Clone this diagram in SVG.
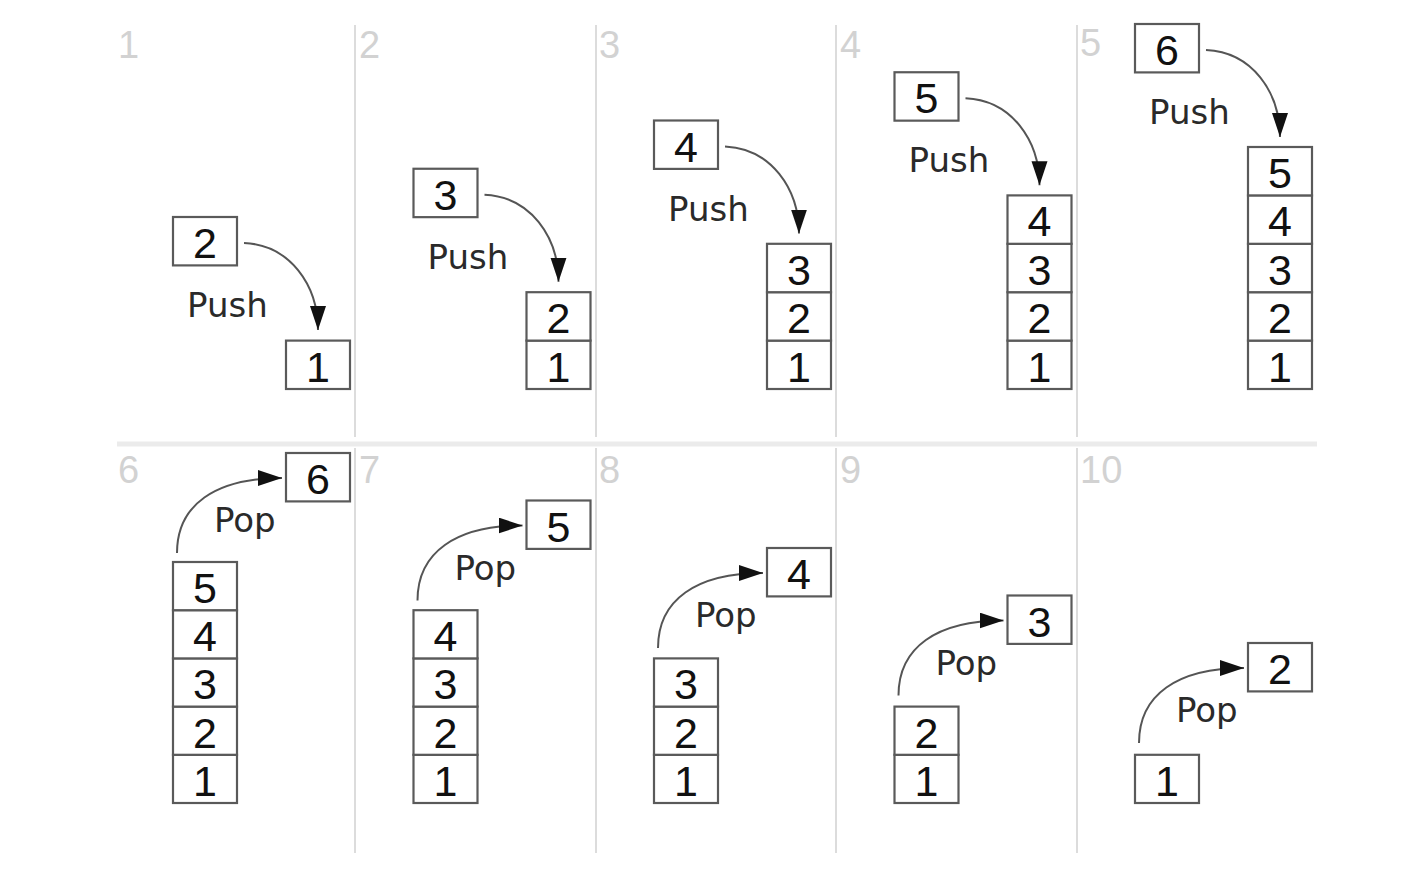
<svg xmlns="http://www.w3.org/2000/svg" width="1428" height="870" viewBox="0 0 1428 870">
<style>
.box{fill:#fff;stroke:#5a5a5a;stroke-width:2.2}
.num{font-family:"Liberation Sans",Arial,sans-serif;font-size:43px;fill:#111;text-anchor:middle}
.lbl{font-family:"Liberation Sans",Arial,sans-serif;font-size:38px;fill:#d2d2d2}
.op{font-family:"DejaVu Sans",Verdana,sans-serif;font-size:34px;fill:#2a2a2a}
.sep{stroke:#dcdcdc;stroke-width:2;fill:none}
.arr{stroke:#555;stroke-width:2;fill:none;marker-end:url(#ah)}
</style>
<defs>
<marker id="ah" markerUnits="userSpaceOnUse" markerWidth="26" markerHeight="18" refX="24" refY="8" orient="auto">
<path d="M0,0 L24,8 L0,16 Z" fill="#111"/>
</marker>
</defs>
<rect width="1428" height="870" fill="#fff"/>
<g id="grid">
<line class="sep" x1="355" y1="25" x2="355" y2="437"/>
<line class="sep" x1="596" y1="25" x2="596" y2="437"/>
<line class="sep" x1="836" y1="25" x2="836" y2="437"/>
<line class="sep" x1="1077" y1="25" x2="1077" y2="437"/>
<line class="sep" x1="355" y1="448" x2="355" y2="853"/>
<line class="sep" x1="596" y1="448" x2="596" y2="853"/>
<line class="sep" x1="836" y1="448" x2="836" y2="853"/>
<line class="sep" x1="1077" y1="448" x2="1077" y2="853"/>
<line x1="117" y1="444" x2="1317" y2="444" stroke="#ebebeb" stroke-width="5"/>
</g>
<g id="labels">
<text class="lbl" x="118" y="58">1</text>
<text class="lbl" x="359" y="58">2</text>
<text class="lbl" x="599" y="58">3</text>
<text class="lbl" x="840" y="58">4</text>
<text class="lbl" x="1080" y="56">5</text>
<text class="lbl" x="118" y="483">6</text>
<text class="lbl" x="359" y="483">7</text>
<text class="lbl" x="599" y="483">8</text>
<text class="lbl" x="840" y="483">9</text>
<text class="lbl" x="1080" y="483">10</text>
</g>
<g id="connectors">
<path class="arr" d="M244,243 C290,245 318,285 318,330"/>
<path class="arr" d="M484.5,194.75 C530.5,196.75 558.5,236.75 558.5,281.75"/>
<path class="arr" d="M725,146.5 C771,148.5 799,188.5 799,233.5"/>
<path class="arr" d="M965.5,98.25 C1011.5,100.25 1039.5,140.25 1039.5,185.25"/>
<path class="arr" d="M1206,50 C1252,52 1280,92 1280,137"/>
<path class="arr" d="M177,553 C177,505 215,478 282,478"/>
<path class="arr" d="M417.5,600.5 C417.5,552.5 455.5,525.5 522.5,525.5"/>
<path class="arr" d="M658,648 C658,600 696,573 763,573"/>
<path class="arr" d="M898.5,695.5 C898.5,647.5 936.5,620.5 1003.5,620.5"/>
<path class="arr" d="M1139,743 C1139,695 1177,668 1244,668"/>
<text class="op" x="187" y="317">Push</text>
<text class="op" x="427.5" y="268.75">Push</text>
<text class="op" x="668" y="220.5">Push</text>
<text class="op" x="908.5" y="172.25">Push</text>
<text class="op" x="1149" y="124">Push</text>
<text class="op" x="214" y="532">Pop</text>
<text class="op" x="454.5" y="579.5">Pop</text>
<text class="op" x="695" y="627">Pop</text>
<text class="op" x="935.5" y="674.5">Pop</text>
<text class="op" x="1176" y="722">Pop</text>
</g>
<!-- Panel 1 -->
<g id="p1-in"><rect class="box" x="173" y="217" width="64" height="48.4"/><text class="num" x="205" y="258">2</text></g>
<g id="p1-stack">
<rect class="box" x="286" y="340.6" width="64" height="48.4"/><text class="num" x="318" y="381.6">1</text>
</g>
<!-- Panel 2 -->
<g id="p2-in"><rect class="box" x="413.5" y="168.75" width="64" height="48.4"/><text class="num" x="445.5" y="209.75">3</text></g>
<g id="p2-stack">
<rect class="box" x="526.5" y="340.6" width="64" height="48.4"/><text class="num" x="558.5" y="381.6">1</text>
<rect class="box" x="526.5" y="292.2" width="64" height="48.4"/><text class="num" x="558.5" y="333.2">2</text>
</g>
<!-- Panel 3 -->
<g id="p3-in"><rect class="box" x="654" y="120.5" width="64" height="48.4"/><text class="num" x="686" y="161.5">4</text></g>
<g id="p3-stack">
<rect class="box" x="767" y="340.6" width="64" height="48.4"/><text class="num" x="799" y="381.6">1</text>
<rect class="box" x="767" y="292.2" width="64" height="48.4"/><text class="num" x="799" y="333.2">2</text>
<rect class="box" x="767" y="243.8" width="64" height="48.4"/><text class="num" x="799" y="284.8">3</text>
</g>
<!-- Panel 4 -->
<g id="p4-in"><rect class="box" x="894.5" y="72.25" width="64" height="48.4"/><text class="num" x="926.5" y="113.25">5</text></g>
<g id="p4-stack">
<rect class="box" x="1007.5" y="340.6" width="64" height="48.4"/><text class="num" x="1039.5" y="381.6">1</text>
<rect class="box" x="1007.5" y="292.2" width="64" height="48.4"/><text class="num" x="1039.5" y="333.2">2</text>
<rect class="box" x="1007.5" y="243.8" width="64" height="48.4"/><text class="num" x="1039.5" y="284.8">3</text>
<rect class="box" x="1007.5" y="195.4" width="64" height="48.4"/><text class="num" x="1039.5" y="236.4">4</text>
</g>
<!-- Panel 5 -->
<g id="p5-in"><rect class="box" x="1135" y="24" width="64" height="48.4"/><text class="num" x="1167" y="65">6</text></g>
<g id="p5-stack">
<rect class="box" x="1248" y="340.6" width="64" height="48.4"/><text class="num" x="1280" y="381.6">1</text>
<rect class="box" x="1248" y="292.2" width="64" height="48.4"/><text class="num" x="1280" y="333.2">2</text>
<rect class="box" x="1248" y="243.8" width="64" height="48.4"/><text class="num" x="1280" y="284.8">3</text>
<rect class="box" x="1248" y="195.4" width="64" height="48.4"/><text class="num" x="1280" y="236.4">4</text>
<rect class="box" x="1248" y="147" width="64" height="48.4"/><text class="num" x="1280" y="188">5</text>
</g>
<!-- Panel 6 -->
<g id="p6-out"><rect class="box" x="286" y="453" width="64" height="48.4"/><text class="num" x="318" y="494">6</text></g>
<g id="p6-stack">
<rect class="box" x="173" y="754.8" width="64" height="48.2"/><text class="num" x="205" y="795.8">1</text>
<rect class="box" x="173" y="706.6" width="64" height="48.2"/><text class="num" x="205" y="747.6">2</text>
<rect class="box" x="173" y="658.4" width="64" height="48.2"/><text class="num" x="205" y="699.4">3</text>
<rect class="box" x="173" y="610.2" width="64" height="48.2"/><text class="num" x="205" y="651.2">4</text>
<rect class="box" x="173" y="562" width="64" height="48.2"/><text class="num" x="205" y="603">5</text>
</g>
<!-- Panel 7 -->
<g id="p7-out"><rect class="box" x="526.5" y="500.5" width="64" height="48.4"/><text class="num" x="558.5" y="541.5">5</text></g>
<g id="p7-stack">
<rect class="box" x="413.5" y="754.8" width="64" height="48.2"/><text class="num" x="445.5" y="795.8">1</text>
<rect class="box" x="413.5" y="706.6" width="64" height="48.2"/><text class="num" x="445.5" y="747.6">2</text>
<rect class="box" x="413.5" y="658.4" width="64" height="48.2"/><text class="num" x="445.5" y="699.4">3</text>
<rect class="box" x="413.5" y="610.2" width="64" height="48.2"/><text class="num" x="445.5" y="651.2">4</text>
</g>
<!-- Panel 8 -->
<g id="p8-out"><rect class="box" x="767" y="548" width="64" height="48.4"/><text class="num" x="799" y="589">4</text></g>
<g id="p8-stack">
<rect class="box" x="654" y="754.8" width="64" height="48.2"/><text class="num" x="686" y="795.8">1</text>
<rect class="box" x="654" y="706.6" width="64" height="48.2"/><text class="num" x="686" y="747.6">2</text>
<rect class="box" x="654" y="658.4" width="64" height="48.2"/><text class="num" x="686" y="699.4">3</text>
</g>
<!-- Panel 9 -->
<g id="p9-out"><rect class="box" x="1007.5" y="595.5" width="64" height="48.4"/><text class="num" x="1039.5" y="636.5">3</text></g>
<g id="p9-stack">
<rect class="box" x="894.5" y="754.8" width="64" height="48.2"/><text class="num" x="926.5" y="795.8">1</text>
<rect class="box" x="894.5" y="706.6" width="64" height="48.2"/><text class="num" x="926.5" y="747.6">2</text>
</g>
<!-- Panel 10 -->
<g id="p10-out"><rect class="box" x="1248" y="643" width="64" height="48.4"/><text class="num" x="1280" y="684">2</text></g>
<g id="p10-stack">
<rect class="box" x="1135" y="754.8" width="64" height="48.2"/><text class="num" x="1167" y="795.8">1</text>
</g>
</svg>
